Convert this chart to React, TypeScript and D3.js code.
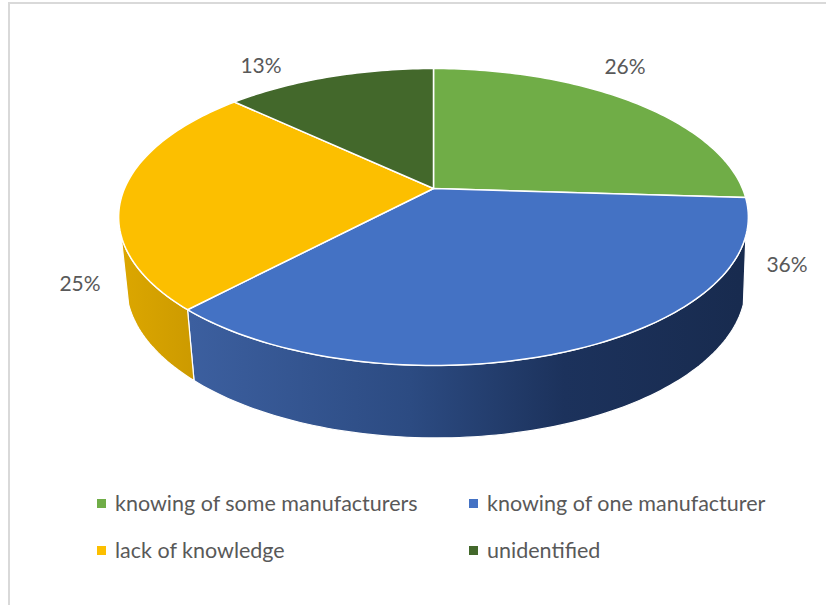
import React from 'react';
import * as d3 from 'd3';

const categories = ['knowing of some manufacturers', 'knowing of one manufacturer', 'lack of knowledge', 'unidentified'];
const values = [26, 36, 25, 13];
const colors = ['#70ad47', '#4472c4', '#fcbf00', '#43682b'];
const labels = ['26%', '36%', '25%', '13%'];

const width = 830;
const height = 605;

// the chart is a tilted disc, so the near side is bigger than the far side
const persp = 0.192;
const topDisc = { cx: 433.5, cy: 188.5, rx: 309, ry: 143 };
const bottomDisc = { cx: 436, cy: 256, rx: 304, ry: 147 };

function project(disc: typeof topDisc, a: number): [number, number] {
    const X = Math.sin(a);
    const Y = -Math.cos(a);
    const w = 1 - persp * Y;
    return [disc.cx + disc.rx * X / w, disc.cy + disc.ry * Y / w];
}

function rim(disc: typeof topDisc, a0: number, a1: number): [number, number][] {
    const n = Math.max(2, Math.ceil(Math.abs(a1 - a0) / 0.02));
    return d3.range(n + 1).map((i) => project(disc, a0 + (a1 - a0) * i / n));
}

const line = d3.line();

export default function App() {
    const slices = d3.pie<number>().sort(null)(values);
    const sideStart = (108 * Math.PI) / 180;
    const sideEnd = (252 * Math.PI) / 180;

    const legendX = d3.scaleOrdinal<number, number>().domain([0, 1]).range([97, 469]);
    const legendY = d3.scaleOrdinal<number, number>().domain([0, 1]).range([503, 550]);
    const labelPos: [number, number][] = [[625, 67], [787, 265], [80, 284], [261, 66]];

    const sides = slices
        .map((s, i) => {
            const a0 = Math.max(s.startAngle, sideStart);
            const a1 = Math.min(s.endAngle, sideEnd);
            if (a1 <= a0) return null;
            const pts = [...rim(topDisc, a0, a1), ...rim(bottomDisc, a1, a0)];
            return { i, d: line(pts) + 'Z' };
        })
        .filter(Boolean) as { i: number; d: string }[];

    return (
        <svg width={width} height={height} style={{ position: 'absolute', left: 0, top: 0 }} fontFamily="Lato, 'Open Sans', sans-serif">
            <rect width={width} height={height} fill="#fff" />
            <path d="M9,605V3H826" fill="none" stroke="#d9d9d9" strokeWidth={2} />
            <defs>
                <linearGradient id="side1" gradientUnits="userSpaceOnUse" x1={190} x2={740} y1={0} y2={0}>
                    <stop offset="0" stopColor="#3c5f9f" />
                    <stop offset="0.4" stopColor="#2c4b82" />
                    <stop offset="0.68" stopColor="#1c325c" />
                    <stop offset="1" stopColor="#182b4f" />
                </linearGradient>
                <linearGradient id="side2" gradientUnits="userSpaceOnUse" x1={120} x2={195} y1={0} y2={0}>
                    <stop offset="0" stopColor="#dca700" />
                    <stop offset="1" stopColor="#cc9a00" />
                </linearGradient>
            </defs>
            {sides.map((s) => (
                <path key={s.i} d={s.d} fill={`url(#side${s.i})`} stroke="#fff" strokeWidth={1.2} strokeLinejoin="round" />
            ))}
            {slices.map((s, i) => (
                <path
                    key={i}
                    d={line([[topDisc.cx, topDisc.cy], ...rim(topDisc, s.startAngle, s.endAngle)]) + 'Z'}
                    fill={colors[i]}
                    stroke="#fff"
                    strokeWidth={1.5}
                    strokeLinejoin="round"
                />
            ))}
            {labels.map((l, i) => (
                <text key={l} x={labelPos[i][0]} y={labelPos[i][1]} dy="0.35em" textAnchor="middle" fontSize={21} fill="#595959">
                    {l}
                </text>
            ))}
            {categories.map((c, i) => (
                <g key={c}>
                    <rect x={legendX(i % 2)} y={legendY(Math.floor(i / 2)) - 4} width={9} height={9} fill={colors[i]} />
                    <text x={legendX(i % 2) + 18} y={legendY(Math.floor(i / 2))} dy="0.35em" fontSize={21.5} fill="#595959">
                        {c}
                    </text>
                </g>
            ))}
        </svg>
    );
}
